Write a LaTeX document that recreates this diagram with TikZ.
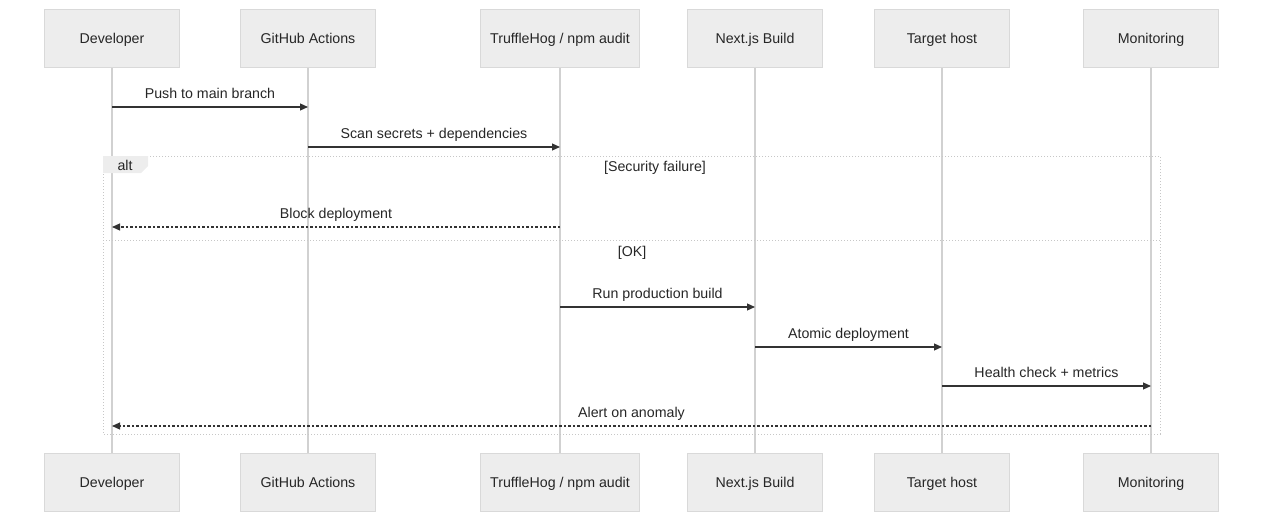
\documentclass[tikz,border=0pt]{standalone}
\usepackage{fontspec}
\setmainfont{Liberation Sans}
\usetikzlibrary{arrows.meta}
\begin{document}
\begin{tikzpicture}[x=1pt,y=-1pt,
  font=\fontsize{14.2}{16}\selectfont,
  part/.style={draw=black!15,fill=black!7,minimum height=58pt,inner sep=0pt,text=black!85,text height=12pt,text depth=1pt},
  life/.style={draw=black!18,line width=1.6pt},
  msg/.style={draw=black!80,line width=1.1pt,-{Triangle[length=8pt,width=7pt]}},
  rmsg/.style={msg,dash pattern=on 2.5pt off 2pt},
  lbl/.style={text=black!85,inner sep=0pt,text height=10pt,text depth=3pt}]
\useasboundingbox (0,0) rectangle (1264,522);
\foreach \n/\x/\w/\t in {dev/112/135/{Developer},gha/308/135/{GitHub Actions},tru/560/159/{TruffleHog / npm audit},nxt/755/135/{Next.js Build},tgt/942/135/{Target host},mon/1151/135/{Monitoring}}{
  \draw[life] (\x,67) -- (\x,453);
  \node[part,minimum width=\w pt] (\n t) at (\x,38) {\t};
  \node[part,minimum width=\w pt] (\n b) at (\x,482) {\t};
}
\draw[black!22,dotted,line width=1pt] (103,156) rectangle (1160,434);
\draw[black!22,dotted,line width=1pt] (103,240) -- (1160,240);
\fill[black!7] (103,156) -- (148,156) -- (148,166) -- (141,173) -- (103,173) -- cycle;
\node[lbl] at (125,167) {alt};
\node[lbl] at (655,168) {[Security failure]};
\node[lbl] at (632,253) {[OK]};
\coordinate (a1) at (112,107); \coordinate (a2) at (308,107);
\draw[msg] (a1) -- (a2) node[lbl,midway,above=5pt] {Push to main branch};
\coordinate (b1) at (308,147); \coordinate (b2) at (560,147);
\draw[msg] (b1) -- (b2) node[lbl,midway,above=5pt] {Scan secrets + dependencies};
\coordinate (c1) at (560,227); \coordinate (c2) at (112,227);
\draw[rmsg] (c1) -- (c2) node[lbl,pos=0.5,above=5pt] {Block deployment};
\coordinate (d1) at (560,307); \coordinate (d2) at (755,307);
\draw[msg] (d1) -- (d2) node[lbl,midway,above=5pt] {Run production build};
\coordinate (e1) at (755,347); \coordinate (e2) at (942,347);
\draw[msg] (e1) -- (e2) node[lbl,midway,above=5pt] {Atomic deployment};
\coordinate (f1) at (942,386); \coordinate (f2) at (1151,386);
\draw[msg] (f1) -- (f2) node[lbl,midway,above=5pt] {Health check + metrics};
\coordinate (g1) at (1151,426); \coordinate (g2) at (112,426);
\draw[rmsg] (g1) -- (g2) node[lbl,midway,above=5pt] {Alert on anomaly};
\end{tikzpicture}
\end{document}
